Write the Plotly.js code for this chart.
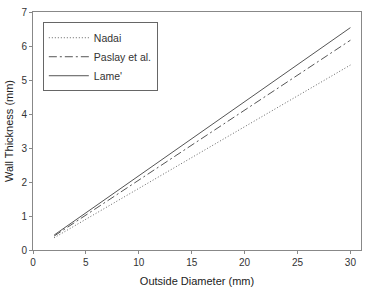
<!DOCTYPE html>
<html><head><meta charset="utf-8">
<script src="https://cdn.plot.ly/plotly-3.0.1.min.js"></script>
<style>body{margin:0;background:#fff}#c{width:365px;height:287px}</style>
</head><body><div id="c"></div>
<script>
const diameter = [2, 10, 20, 30];
const nadai = [0.36, 1.81, 3.63, 5.44];
const paslay = [0.41, 2.06, 4.11, 6.17];
const lame = [0.44, 2.18, 4.36, 6.54];
const seriesNames = ["Nadai", "Paslay et al.", "Lame'"];
const xTicks = [0, 5, 10, 15, 20, 25, 30];
const yTicks = [0, 1, 2, 3, 4, 5, 6, 7];

const lc = '#555';
const traces = [
  {x: diameter, y: nadai, name: seriesNames[0], mode: 'lines', line: {color: '#666', width: 1, dash: '1px,2px'}},
  {x: diameter, y: paslay, name: seriesNames[1], mode: 'lines', line: {color: lc, width: 1, dash: '8px,3px,2px,3px'}},
  {x: diameter, y: lame, name: seriesNames[2], mode: 'lines', line: {color: lc, width: 1}}
];
const axisBase = {
  showgrid: false, zeroline: false, showline: true, linecolor: '#888', linewidth: 1,
  mirror: true, ticks: 'outside', ticklen: 3, tickcolor: '#888', tickwidth: 1,
  tickfont: {size: 10, color: '#333'}
};
const layout = {
  width: 365, height: 287,
  margin: {l: 33, r: 4, t: 12, b: 37},
  paper_bgcolor: '#fff', plot_bgcolor: '#fff',
  font: {family: 'Liberation Sans, Arial, sans-serif', color: '#222'},
  showlegend: true,
  legend: {x: 0.03, y: 0.957, xanchor: 'left', yanchor: 'top', bordercolor: '#666', borderwidth: 1,
    font: {size: 10.5, color: '#333'}, tracegroupgap: 0, itemwidth: 40, bgcolor: '#fff'},
  xaxis: Object.assign({}, axisBase, {range: [0, 31], tickvals: xTicks,
    title: {text: 'Outside Diameter (mm)', font: {size: 11, color: '#222'}, standoff: 12}}),
  yaxis: Object.assign({}, axisBase, {range: [0, 7], tickvals: yTicks,
    title: {text: 'Wall Thickness (mm)', font: {size: 11, color: '#222'}, standoff: 5}})
};
Plotly.newPlot('c', traces, layout, {staticPlot: true, displayModeBar: false});
</script></body></html>
